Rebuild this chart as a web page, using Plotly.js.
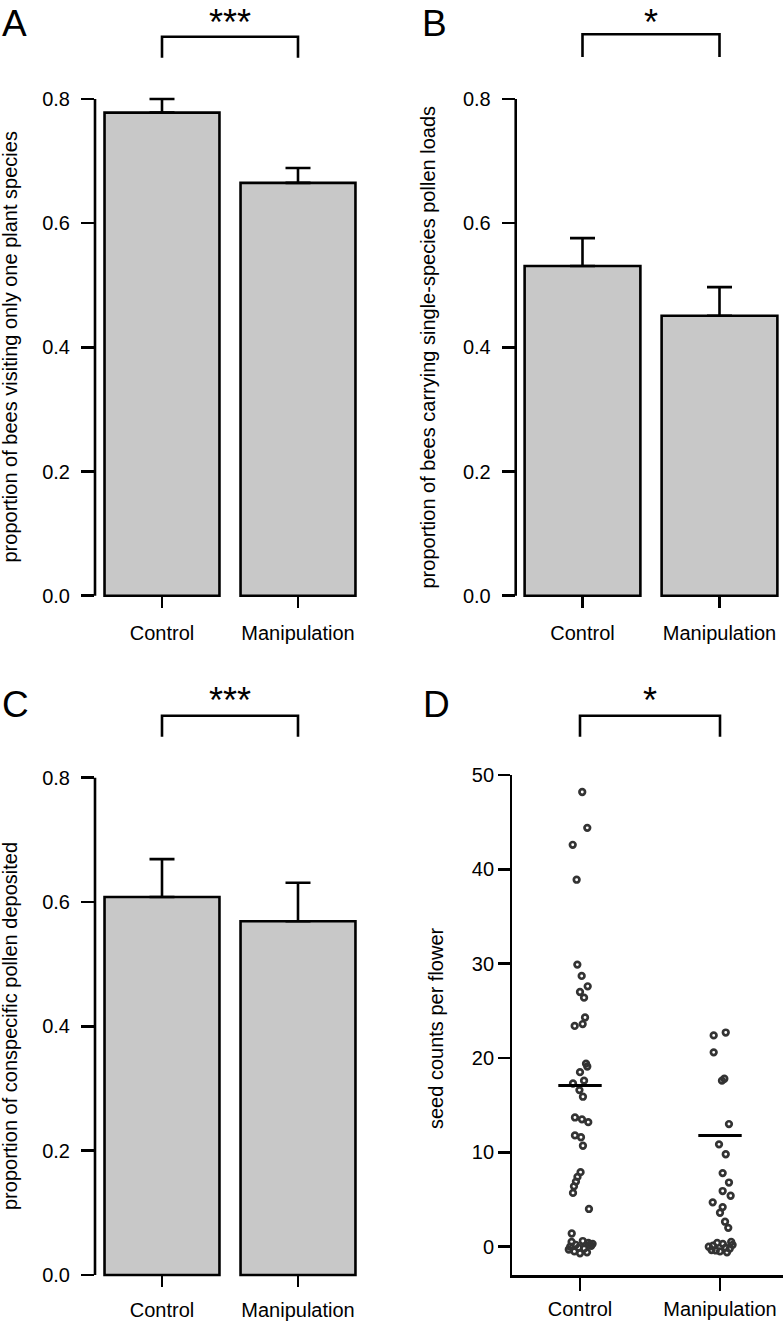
<!DOCTYPE html>
<html><head><meta charset="utf-8">
<script src="https://cdn.plot.ly/plotly-3.0.1.min.js"></script>
<style>html,body{margin:0;padding:0;background:#fff}#chart{width:783px;height:1323px}</style>
</head><body><div id="chart"></div>
<script>
// ---------- data ----------
const categories = ['Control', 'Manipulation'];
const propTicks = [0, 0.2, 0.4, 0.6, 0.8];
const seedTicks = [0, 10, 20, 30, 40, 50];

// A: proportion of bees visiting only one plant species
const visitOneSpecies = [0.778, 0.665];
const visitOneSpeciesErr = [0.022, 0.024];
// B: proportion of bees carrying single-species pollen loads
const singleSpeciesLoads = [0.531, 0.451];
const singleSpeciesLoadsErr = [0.045, 0.046];
// C: proportion of conspecific pollen deposited
const conspecificPollen = [0.608, 0.569];
const conspecificPollenErr = [0.061, 0.062];

// D: seed counts per flower (values) and horizontal jitter
const controlSeeds = [48.2, 44.4, 42.6, 38.9, 29.9, 28.7, 27.6, 27.0, 26.4, 24.3, 23.6, 23.4,
  19.4, 19.1, 18.5, 17.6, 17.3, 16.6, 15.9, 13.7, 13.5, 13.2, 11.8, 11.6, 10.7,
  7.9, 7.4, 6.9, 6.4, 5.7, 4.0, 1.4,
  0.5, 0.2, -0.3, 0.6, -0.6, 0.1, -0.1, 0.4, -0.5, 0.3, -0.2, 0.0, -0.7, 0.2];
const controlJitter = [0.016, 0.052, -0.052, -0.024, -0.019, 0.012, 0.055, 0.0, 0.029, 0.036, 0.019, -0.038,
  0.043, 0.052, 0.0, 0.029, -0.05, -0.004, 0.021, -0.036, 0.014, 0.059, -0.036, 0.007, 0.021,
  0.004, -0.018, -0.029, -0.043, -0.05, 0.064, -0.059,
  -0.06, -0.03, -0.08, 0.02, 0.05, 0.08, -0.01, 0.06, -0.04, 0.09, 0.03, -0.07, 0.0, 0.07];
const manipSeeds = [22.4, 22.7, 20.6, 17.8, 17.6, 13.0, 10.85, 9.8, 7.8, 6.8, 5.9, 5.4, 4.7, 4.2, 3.6, 2.65, 2.0,
  0.5, 0.1, -0.35, 0.3, -0.6, 0.0, -0.2, 0.4, -0.5, 0.2, -0.1, -0.4];
const manipJitter = [-0.045, 0.041, -0.045, 0.031, 0.014, 0.064, -0.007, 0.041, 0.019, 0.064, 0.019, 0.076, -0.052, 0.019, 0.0, 0.036, 0.059,
  0.08, -0.05, -0.06, 0.02, 0.05, -0.08, 0.07, -0.02, 0.0, 0.09, 0.04, -0.03];
const seedMeans = [17.1, 11.8];

const panelLetters = ['A', 'B', 'C', 'D'];
const significance = ['***', '*', '***', '*'];
const yTitles = ['proportion of bees visiting only one plant species',
  'proportion of bees carrying single-species pollen loads',
  'proportion of conspecific pollen deposited',
  'seed counts per flower'];

// ---------- layout helpers (pixel -> paper) ----------
const W = 783, H = 1323;
const fx = p => p / W;
const fy = p => 1 - p / H;
const FONT = 'Liberation Sans, Arial, Helvetica, sans-serif';
const LW = 2.6;
const BAR_FILL = '#c8c8c8';

const barPanels = [
  {vals: visitOneSpecies, err: visitOneSpeciesErr, xa: 'x', ya: 'y'},
  {vals: singleSpeciesLoads, err: singleSpeciesLoadsErr, xa: 'x2', ya: 'y2'},
  {vals: conspecificPollen, err: conspecificPollenErr, xa: 'x3', ya: 'y3'}
];

const traces = [];
barPanels.forEach(p => {
  traces.push({
    type: 'bar', x: [0, 1], y: p.vals, xaxis: p.xa, yaxis: p.ya, width: 0.845,
    marker: {color: BAR_FILL, line: {color: '#000', width: LW}},
    error_y: {type: 'data', symmetric: false, array: p.err, arrayminus: p.err.map(() => 0),
      color: '#000', thickness: LW, width: 12.5},
    hoverinfo: 'skip'
  });
});

// D scatter
const ringMarker = {symbol: 'circle-open', size: 5.6, color: '#333', line: {color: '#333', width: 2.7}};
traces.push({
  type: 'scatter', mode: 'markers', xaxis: 'x4', yaxis: 'y4',
  x: controlJitter.map(j => 0 + j), y: controlSeeds,
  marker: ringMarker, cliponaxis: false, hoverinfo: 'skip'
});
traces.push({
  type: 'scatter', mode: 'markers', xaxis: 'x4', yaxis: 'y4',
  x: manipJitter.map(j => 1 + j), y: manipSeeds,
  marker: ringMarker, cliponaxis: false, hoverinfo: 'skip'
});
seedMeans.forEach((m, i) => {
  traces.push({
    type: 'scatter', mode: 'lines', xaxis: 'x4', yaxis: 'y4',
    x: [i - 0.155, i + 0.155], y: [m, m],
    line: {color: '#000', width: 3}, hoverinfo: 'skip'
  });
});

const tickFont = {family: FONT, size: 20, color: '#000'};

function barXAxis(domain, range) {
  return {domain, range, tickvals: [0, 1], ticktext: categories, ticks: 'inside', ticklen: 12.4,
    tickwidth: LW, tickcolor: '#000', showline: false, zeroline: false, showgrid: false,
    tickfont: tickFont, ticklabelstandoff: 11, fixedrange: true};
}
function barYAxis(domain, anchor) {
  return {domain, range: [-0.02, 0.82], tickvals: propTicks, tickformat: '.1f', ticks: 'outside',
    ticklen: 13, tickwidth: LW, tickcolor: '#000', showline: false, zeroline: false, showgrid: false,
    tickfont: tickFont, ticklabelstandoff: 7, anchor, fixedrange: true};
}

const layout = {
  width: W, height: H, margin: {l: 0, r: 0, t: 0, b: 0}, showlegend: false,
  paper_bgcolor: '#fff', plot_bgcolor: 'rgba(0,0,0,0)', font: {family: FONT, color: '#000'},
  xaxis: Object.assign(barXAxis([fx(95), fx(366)], [-0.4926, 1.5]), {anchor: 'y'}),
  yaxis: barYAxis([fy(608.1), fy(86.6)], 'x'),
  xaxis2: Object.assign(barXAxis([fx(515.7), 1], [-0.4876, 1.4635]), {anchor: 'y2'}),
  yaxis2: barYAxis([fy(608.1), fy(86.6)], 'x2'),
  xaxis3: Object.assign(barXAxis([fx(95), fx(366)], [-0.4926, 1.5]), {anchor: 'y3', ticklabelstandoff: 9}),
  yaxis3: barYAxis([fy(1287.4), fy(765.3)], 'x3'),
  xaxis4: {domain: [fx(512.3), 1], range: [-0.4836, 1.45], anchor: 'y4', tickvals: [0, 1], ticktext: categories,
    ticks: 'outside', ticklen: 13, tickwidth: LW, tickcolor: '#000', showline: true, linewidth: LW, linecolor: '#000',
    zeroline: false, showgrid: false, tickfont: tickFont, ticklabelstandoff: 1, fixedrange: true},
  yaxis4: {domain: [fy(1275), fy(775)], range: [-3.0, 50], anchor: 'x4', tickvals: seedTicks, ticks: 'outside',
    ticklen: 11.6, tickwidth: LW, tickcolor: '#000', showline: true, linewidth: LW, linecolor: '#000',
    zeroline: false, showgrid: false, tickfont: tickFont, ticklabelstandoff: 0, fixedrange: true},
  shapes: [],
  annotations: []
};

// y-axis lines for bar panels (span 0..0.8 like R axis)
[['x', 'y'], ['x2', 'y2'], ['x3', 'y3']].forEach(([xa, ya]) => {
  layout.shapes.push({type: 'line', xref: xa + ' domain', yref: ya, x0: 0, x1: 0,
    y0: propTicks[0], y1: propTicks[propTicks.length - 1], line: {color: '#000', width: LW}});
});

// significance brackets and stars
const bracketRows = [
  {xa: 'x', top: 36.7, bot: 57.7, star: 22},
  {xa: 'x2', top: 34.3, bot: 57, star: 22},
  {xa: 'x3', top: 715.7, bot: 736.7, star: 701},
  {xa: 'x4', top: 715.7, bot: 736.7, star: 701}
];
bracketRows.forEach((b, i) => {
  layout.shapes.push({type: 'path', xref: b.xa, yref: 'paper',
    path: `M 0,${fy(b.bot)} L 0,${fy(b.top)} L 1,${fy(b.top)} L 1,${fy(b.bot)}`,
    line: {color: '#000', width: LW}});
  layout.annotations.push({xref: b.xa, yref: 'paper', x: 0.5, y: fy(b.star), text: significance[i],
    showarrow: false, xanchor: 'center', yanchor: 'middle', font: {family: FONT, size: 36, color: '#000'}});
});

// panel letters
const letterPos = [[0, 24], [420, 24], [0, 704], [421, 704]];
panelLetters.forEach((L, i) => {
  layout.annotations.push({xref: 'paper', yref: 'paper', x: fx(letterPos[i][0]), y: fy(letterPos[i][1]),
    text: L, showarrow: false, xanchor: 'left', yanchor: 'middle', font: {family: FONT, size: 37, color: '#000'}});
});

// y titles
const titlePos = [[10, 347.5], [428, 347.5], [10, 1026], [436, 1028]];
yTitles.forEach((t, i) => {
  layout.annotations.push({xref: 'paper', yref: 'paper', x: fx(titlePos[i][0]), y: fy(titlePos[i][1]),
    text: t, textangle: -90, showarrow: false, xanchor: 'center', yanchor: 'middle',
    font: {family: FONT, size: 20, color: '#000'}});
});

Plotly.newPlot('chart', traces, layout, {staticPlot: true, displayModeBar: false});
</script>
</body></html>
